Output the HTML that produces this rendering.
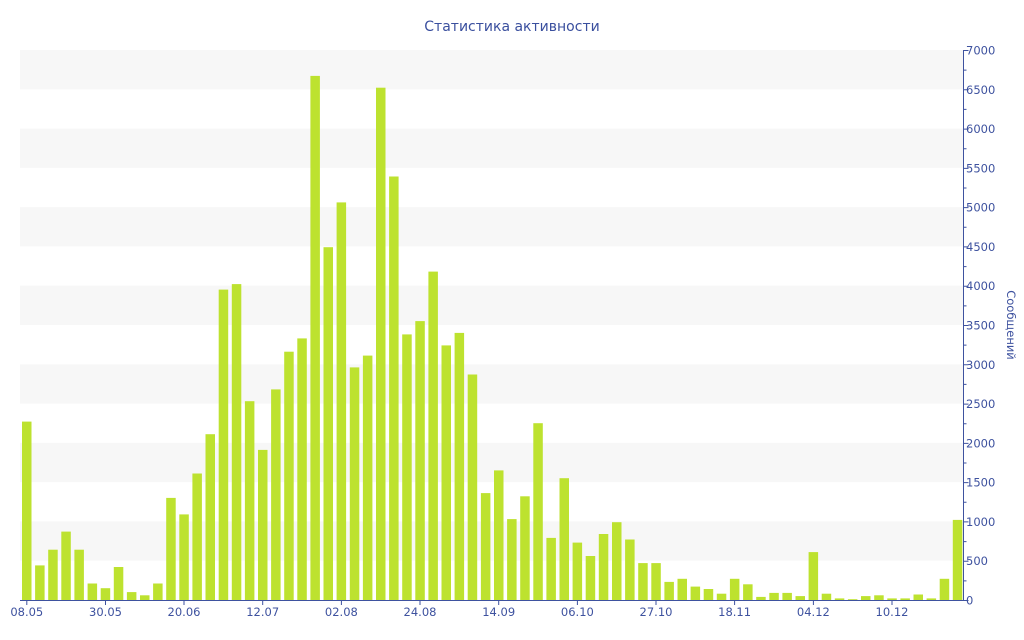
<!DOCTYPE html>
<html><head><meta charset="utf-8"><style>
html,body{margin:0;padding:0;background:#fff;}
svg{display:block;font-family:"DejaVu Sans","Liberation Sans",sans-serif;}
</style></head><body>
<svg width="1024" height="640" viewBox="0 0 1024 640" xmlns="http://www.w3.org/2000/svg">
<rect width="1024" height="640" fill="#fff"/>
<text x="512" y="31" text-anchor="middle" font-size="14" fill="#3a4f9e">Статистика активности</text>
<g fill="#f7f7f7">
<rect x="20" y="50" width="943" height="39.3"/>
<rect x="20" y="128.6" width="943" height="39.3"/>
<rect x="20" y="207.1" width="943" height="39.3"/>
<rect x="20" y="285.7" width="943" height="39.3"/>
<rect x="20" y="364.3" width="943" height="39.3"/>
<rect x="20" y="442.9" width="943" height="39.3"/>
<rect x="20" y="521.4" width="943" height="39.3"/>
</g>
<g fill="#bde22f">
<rect x="22" y="421.6" width="9.5" height="178.4"/>
<rect x="35.1" y="565.4" width="9.5" height="34.6"/>
<rect x="48.2" y="549.7" width="9.5" height="50.3"/>
<rect x="61.3" y="531.6" width="9.5" height="68.4"/>
<rect x="74.4" y="549.7" width="9.5" height="50.3"/>
<rect x="87.6" y="583.5" width="9.5" height="16.5"/>
<rect x="100.7" y="588.2" width="9.5" height="11.8"/>
<rect x="113.8" y="567" width="9.5" height="33"/>
<rect x="126.9" y="592.1" width="9.5" height="7.9"/>
<rect x="140" y="595.3" width="9.5" height="4.7"/>
<rect x="153.1" y="583.5" width="9.5" height="16.5"/>
<rect x="166.2" y="497.9" width="9.5" height="102.1"/>
<rect x="179.3" y="514.4" width="9.5" height="85.6"/>
<rect x="192.4" y="473.5" width="9.5" height="126.5"/>
<rect x="205.5" y="434.2" width="9.5" height="165.8"/>
<rect x="218.7" y="289.6" width="9.5" height="310.4"/>
<rect x="231.8" y="284.1" width="9.5" height="315.9"/>
<rect x="244.9" y="401.2" width="9.5" height="198.8"/>
<rect x="258" y="449.9" width="9.5" height="150.1"/>
<rect x="271.1" y="389.4" width="9.5" height="210.6"/>
<rect x="284.2" y="351.7" width="9.5" height="248.3"/>
<rect x="297.3" y="338.4" width="9.5" height="261.6"/>
<rect x="310.4" y="75.9" width="9.5" height="524.1"/>
<rect x="323.5" y="247.2" width="9.5" height="352.8"/>
<rect x="336.6" y="202.4" width="9.5" height="397.6"/>
<rect x="349.8" y="367.4" width="9.5" height="232.6"/>
<rect x="362.9" y="355.6" width="9.5" height="244.4"/>
<rect x="376" y="87.7" width="9.5" height="512.3"/>
<rect x="389.1" y="176.5" width="9.5" height="423.5"/>
<rect x="402.2" y="334.4" width="9.5" height="265.6"/>
<rect x="415.3" y="321.1" width="9.5" height="278.9"/>
<rect x="428.4" y="271.6" width="9.5" height="328.4"/>
<rect x="441.5" y="345.4" width="9.5" height="254.6"/>
<rect x="454.6" y="332.9" width="9.5" height="267.1"/>
<rect x="467.7" y="374.5" width="9.5" height="225.5"/>
<rect x="480.9" y="493.1" width="9.5" height="106.9"/>
<rect x="494" y="470.4" width="9.5" height="129.6"/>
<rect x="507.1" y="519.1" width="9.5" height="80.9"/>
<rect x="520.2" y="496.3" width="9.5" height="103.7"/>
<rect x="533.3" y="423.2" width="9.5" height="176.8"/>
<rect x="546.4" y="537.9" width="9.5" height="62.1"/>
<rect x="559.5" y="478.2" width="9.5" height="121.8"/>
<rect x="572.6" y="542.6" width="9.5" height="57.4"/>
<rect x="585.7" y="556" width="9.5" height="44"/>
<rect x="598.8" y="534" width="9.5" height="66"/>
<rect x="612" y="522.2" width="9.5" height="77.8"/>
<rect x="625.1" y="539.5" width="9.5" height="60.5"/>
<rect x="638.2" y="563.1" width="9.5" height="36.9"/>
<rect x="651.3" y="563.1" width="9.5" height="36.9"/>
<rect x="664.4" y="581.9" width="9.5" height="18.1"/>
<rect x="677.5" y="578.8" width="9.5" height="21.2"/>
<rect x="690.6" y="586.6" width="9.5" height="13.4"/>
<rect x="703.7" y="589" width="9.5" height="11"/>
<rect x="716.8" y="593.7" width="9.5" height="6.3"/>
<rect x="729.9" y="578.8" width="9.5" height="21.2"/>
<rect x="743.1" y="584.3" width="9.5" height="15.7"/>
<rect x="756.2" y="596.9" width="9.5" height="3.1"/>
<rect x="769.3" y="592.9" width="9.5" height="7.1"/>
<rect x="782.4" y="592.9" width="9.5" height="7.1"/>
<rect x="795.5" y="596.1" width="9.5" height="3.9"/>
<rect x="808.6" y="552.1" width="9.5" height="47.9"/>
<rect x="821.7" y="593.7" width="9.5" height="6.3"/>
<rect x="834.8" y="598.4" width="9.5" height="1.6"/>
<rect x="847.9" y="599.2" width="9.5" height="0.8"/>
<rect x="861" y="596.1" width="9.5" height="3.9"/>
<rect x="874.2" y="595.3" width="9.5" height="4.7"/>
<rect x="887.3" y="598.4" width="9.5" height="1.6"/>
<rect x="900.4" y="598.4" width="9.5" height="1.6"/>
<rect x="913.5" y="594.5" width="9.5" height="5.5"/>
<rect x="926.6" y="598.4" width="9.5" height="1.6"/>
<rect x="939.7" y="578.8" width="9.5" height="21.2"/>
<rect x="952.8" y="519.9" width="9.5" height="80.1"/>
</g>
<g stroke="#3e529f" stroke-width="1" fill="none">
<line x1="20" y1="600.5" x2="964" y2="600.5"/>
<line x1="963.5" y1="50" x2="963.5" y2="601"/>
<path d="M963.5 50.5h5M963.5 89.8h5M963.5 129.1h5M963.5 168.4h5M963.5 207.6h5M963.5 246.9h5M963.5 286.2h5M963.5 325.5h5M963.5 364.8h5M963.5 404.1h5M963.5 443.4h5M963.5 482.6h5M963.5 521.9h5M963.5 561.2h5M963.5 600.5h5"/>
<path d="M963.5 70.1h3M963.5 109.4h3M963.5 148.7h3M963.5 188h3M963.5 227.3h3M963.5 266.6h3M963.5 305.9h3M963.5 345.1h3M963.5 384.4h3M963.5 423.7h3M963.5 463h3M963.5 502.3h3M963.5 541.6h3M963.5 580.9h3"/>
<path d="M26.8 600v5M105.5 600v5M184 600v5M262.7 600v5M341.4 600v5M420 600v5M498.7 600v5M577.4 600v5M656 600v5M734.6 600v5M813.4 600v5M892 600v5"/>
</g>
<g font-size="11.5" fill="#3e529f">
<text x="966" y="54.5">7000</text>
<text x="966" y="93.8">6500</text>
<text x="966" y="133.1">6000</text>
<text x="966" y="172.4">5500</text>
<text x="966" y="211.6">5000</text>
<text x="966" y="250.9">4500</text>
<text x="966" y="290.2">4000</text>
<text x="966" y="329.5">3500</text>
<text x="966" y="368.8">3000</text>
<text x="966" y="408.1">2500</text>
<text x="966" y="447.4">2000</text>
<text x="966" y="486.6">1500</text>
<text x="966" y="525.9">1000</text>
<text x="966" y="565.2">500</text>
<text x="966" y="604.5">0</text>
</g>
<g font-size="11.5" fill="#3e529f" text-anchor="middle">
<text x="26.8" y="616">08.05</text>
<text x="105.5" y="616">30.05</text>
<text x="184" y="616">20.06</text>
<text x="262.7" y="616">12.07</text>
<text x="341.4" y="616">02.08</text>
<text x="420" y="616">24.08</text>
<text x="498.7" y="616">14.09</text>
<text x="577.4" y="616">06.10</text>
<text x="656" y="616">27.10</text>
<text x="734.6" y="616">18.11</text>
<text x="813.4" y="616">04.12</text>
<text x="892" y="616">10.12</text>
</g>
<text transform="translate(1007,325) rotate(90)" text-anchor="middle" font-size="11.5" fill="#3e529f">Сообщений</text>
</svg>
</body></html>
